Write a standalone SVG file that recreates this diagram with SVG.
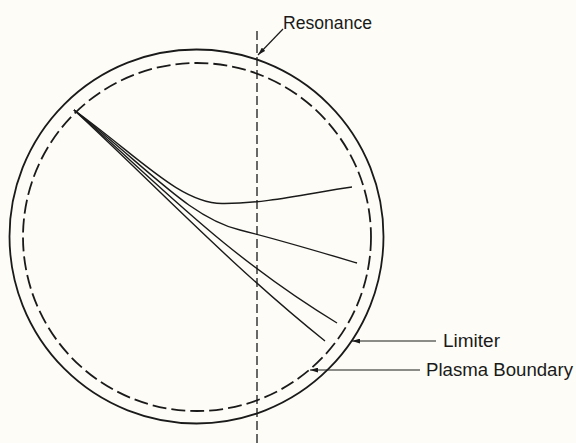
<svg xmlns="http://www.w3.org/2000/svg" width="576" height="443" viewBox="0 0 576 443">
<style>
.solid{fill:none;stroke:#1a1a1a;stroke-width:1.8}
.dash{fill:none;stroke:#1a1a1a;stroke-width:1.8;stroke-dasharray:14 5}
.vdash{fill:none;stroke:#1a1a1a;stroke-width:1.3;stroke-dasharray:9 4}
.ray{fill:none;stroke:#1a1a1a;stroke-width:1.4}
.lead{fill:none;stroke:#1a1a1a;stroke-width:1.2}
.lbl{font-family:"Liberation Sans",Arial,sans-serif;font-size:17.5px;fill:#1a1a1a}
</style>
<defs>
<marker id="ah" viewBox="0 0 10 6" refX="10" refY="3" markerWidth="8" markerHeight="5" markerUnits="userSpaceOnUse" orient="auto">
<path d="M0,0 L10,3 L0,6 z" fill="#1a1a1a"/>
</marker>
</defs>
<rect width="576" height="443" fill="#fdfcf6"/>
<g id="limiter"><circle class="solid" cx="196.5" cy="236.5" r="187"/></g>
<g id="plasma-boundary"><circle class="dash" cx="197" cy="237" r="174"/></g>
<g id="resonance"><line class="vdash" x1="257" y1="31" x2="257" y2="443"/></g>
<g id="rays">
<path class="ray" d="M74,110 C140,158 180,203 222,203.5 C265,204 310,193 352,187"/>
<path class="ray" d="M74,110 C150,170 190,218 240,230 C280,240 320,252 357,263"/>
<path class="ray" d="M74,110 C150,175 220,252 337,323"/>
<path class="ray" d="M74,110 C150,180 230,265 325,341"/>
</g>
<g id="connectors">
<line class="lead" x1="283" y1="29" x2="258" y2="55" marker-end="url(#ah)"/>
<line class="lead" x1="436" y1="341" x2="352" y2="341" marker-end="url(#ah)"/>
<line class="lead" x1="420" y1="370" x2="310" y2="370" marker-end="url(#ah)"/>
</g>
<g id="labels">
<text class="lbl" x="283" y="29" textLength="89" lengthAdjust="spacingAndGlyphs">Resonance</text>
<text class="lbl" x="443" y="347" textLength="57" lengthAdjust="spacingAndGlyphs">Limiter</text>
<text class="lbl" x="426" y="376" textLength="147" lengthAdjust="spacingAndGlyphs">Plasma Boundary</text>
</g>
</svg>
